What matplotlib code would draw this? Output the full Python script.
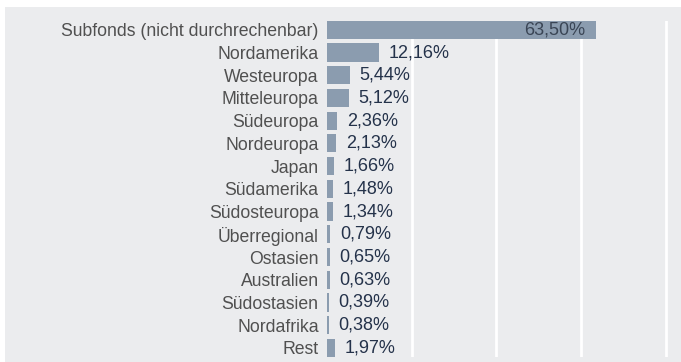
import matplotlib
matplotlib.use("Agg")
import matplotlib.pyplot as plt
from matplotlib.patches import Rectangle

plt.rcParams['font.family'] = ['Liberation Sans', 'DejaVu Sans']

# Regional allocation (share of fund assets, in %)
regions = [
    "Subfonds (nicht durchrechenbar)", "Nordamerika", "Westeuropa", "Mitteleuropa",
    "Südeuropa", "Nordeuropa", "Japan", "Südamerika", "Südosteuropa",
    "Überregional", "Ostasien", "Australien", "Südostasien", "Nordafrika", "Rest",
]
shares = [63.50, 12.16, 5.44, 5.12, 2.36, 2.13, 1.66, 1.48, 1.34,
          0.79, 0.65, 0.63, 0.39, 0.38, 1.97]
grid_ticks = [20, 40, 60, 80]

BG = "#ebecee"
BAR = "#8b9caf"
LABEL = "#505050"
VALUE = "#24324a"

W, H = 681, 362
fig = plt.figure(figsize=(W / 100, H / 100), dpi=100, facecolor="white")
fig.patches.append(Rectangle((5 / W, 0), 1 - 5 / W, 1 - 7 / H,
                             transform=fig.transFigure, facecolor=BG,
                             edgecolor="none", zorder=-10))

x0, x1 = 327 / W, 1.0
y_top, y_bot = 1 - 20.7 / H, 1 - 357 / H
ax = fig.add_axes([x0, y_bot, x1 - x0, y_top - y_bot])
ax.set_zorder(5)
ax.set_facecolor(BG)

px_per_unit = 4.236
ax.set_xlim(0, (W - 327) / px_per_unit)
ax.set_ylim(len(regions) - 0.6, -0.4)

pos = list(range(len(regions)))
ax.barh(pos, shares, height=0.8, color=BAR, zorder=2)

for x in grid_ticks:
    ax.axvline(x, color="white", lw=2, zorder=1)

ax.set_yticks(pos)
ax.set_yticklabels(regions, fontsize=12.7, color=LABEL)
ax.tick_params(axis="y", length=0, pad=6)
ax.set_xticks([])
for s in ax.spines.values():
    s.set_visible(False)

for i, v in enumerate(shares):
    txt = f"{v:.2f}%".replace(".", ",")
    if i == 0:
        ax.annotate(txt, (v, i), xytext=(-7.5, 0), textcoords="offset points",
                    ha="right", va="center", fontsize=13, color="#3a4555", zorder=3)
    else:
        ax.annotate(txt, (v, i), xytext=(7, 0), textcoords="offset points",
                    ha="left", va="center", fontsize=13, color=VALUE, zorder=3)

fig.savefig("out.png", dpi=100, facecolor="white")
